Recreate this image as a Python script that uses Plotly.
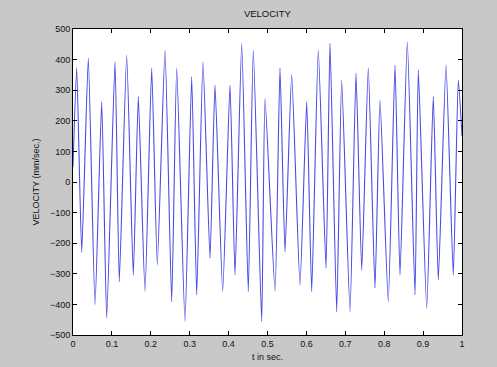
import plotly.graph_objects as go

# Extrema (pixel x -> time, value in mm/sec)
px_x = [73, 76.7, 81.7, 88.3, 95, 101.7, 106.7, 115, 119.3, 126.7, 133.3, 138.3, 145, 151.7,
        157.3, 165, 171.7, 176.7, 185, 191.7, 196.7, 203, 210, 215, 222.7, 230, 235, 241.7,
        248.3, 253.3, 261.7, 265, 275, 280, 285, 291.7, 300, 306.7, 311.7, 318.3, 326, 330,
        336.7, 341.7, 350, 356, 361.7, 368.3, 375, 380, 388.3, 395, 400, 407.3, 415, 418.3,
        426.7, 433.3, 438.3, 446, 453.3, 458.3, 462]
t = [round((x - 73) / 389, 4) for x in px_x]
velocity = [50, 372, -230, 404, -402, 262, -444, 393, -326, 415, -304, 279, -358, 372,
            -271, 431, -391, 372, -456, 344, -369, 393, -249, 317, -358, 317, -304, 453,
            -358, 431, -456, 273, -358, 372, -228, 350, -337, 262, -358, 431, -282, 453,
            -424, 333, -424, 355, -288, 372, -347, 268, -391, 382, -304, 458, -369, 366,
            -413, 279, -320, 382, -304, 333, 150]

x_ticks = [0, 0.1, 0.2, 0.3, 0.4, 0.5, 0.6, 0.7, 0.8, 0.9, 1]
x_tick_labels = ["0", "0.1", "0.2", "0.3", "0.4", "0.5", "0.6", "0.7", "0.8", "0.9", "1"]
y_ticks = [-500, -400, -300, -200, -100, 0, 100, 200, 300, 400, 500]

fig = go.Figure()
fig.add_trace(go.Scatter(x=t, y=velocity, mode="lines",
                         line=dict(color="#4a4ae6", width=1.1, shape="spline", smoothing=0.5),
                         showlegend=False))

font = dict(family="Liberation Sans, Arial, sans-serif", size=9, color="#111")
fig.update_layout(
    width=497, height=367,
    paper_bgcolor="#c8c8c8", plot_bgcolor="white",
    margin=dict(l=73, r=35, t=29, b=32),
    font=font,
    title=dict(text="VELOCITY", x=0.538, xanchor="center", y=0.962, yanchor="middle",
               font=dict(size=9.5, color="#111", family="Liberation Sans, Arial, sans-serif")),
)
fig.update_xaxes(range=[0, 1], tickvals=x_ticks, ticktext=x_tick_labels,
                 ticks="inside", ticklen=4, tickcolor="black", showgrid=False, zeroline=False,
                 showline=True, linecolor="black", linewidth=1, mirror="ticks", automargin=False,
                 title=dict(text="t in sec.", standoff=5, font=font))
fig.update_yaxes(range=[-500, 500], tickvals=y_ticks,
                 ticks="inside", ticklen=4, tickcolor="black", showgrid=False, zeroline=False,
                 showline=True, linecolor="black", linewidth=1, mirror="ticks", automargin=False,
                 title=dict(text="VELOCITY (mm/sec.)", standoff=8, font=font))

fig.write_html("out.html", config={"displayModeBar": False},
               post_script="document.body.style.margin='0';document.body.style.overflow='hidden';")
